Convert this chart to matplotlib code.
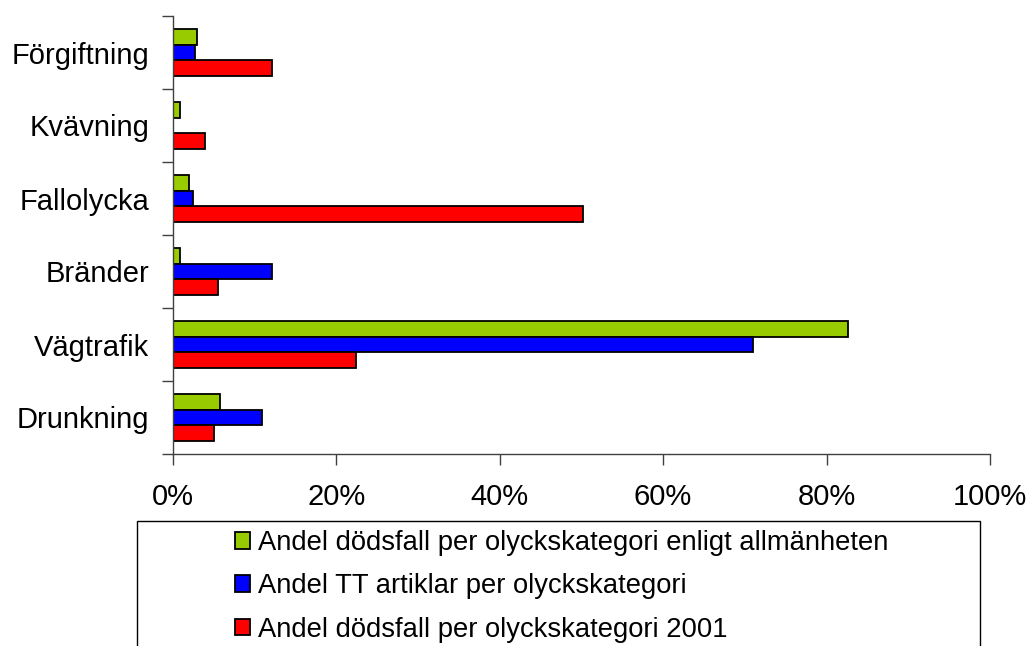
import matplotlib
matplotlib.use("Agg")
import matplotlib.pyplot as plt
import matplotlib.patches as mpatches
import numpy as np

plt.rcParams['font.family'] = ['Liberation Sans', 'DejaVu Sans']

categories = ["Förgiftning", "Kvävning", "Fallolycka", "Bränder", "Vägtrafik", "Drunkning"]
allmanheten = [3.0, 0.9, 2.0, 0.9, 82.6, 5.8]
tt_artiklar = [2.7, 0.0, 2.5, 12.2, 71.0, 10.9]
dodsfall_2001 = [12.2, 4.0, 50.2, 5.5, 22.4, 5.0]
series_labels = ["Andel dödsfall per olyckskategori enligt allmänheten",
                 "Andel TT artiklar per olyckskategori",
                 "Andel dödsfall per olyckskategori 2001"]
colors = ["#99CC00", "#0000FF", "#FF0000"]
xticks = [0, 20, 40, 60, 80, 100]
xticklabels = ["0%", "20%", "40%", "60%", "80%", "100%"]

fig = plt.figure(figsize=(10.34, 6.46), dpi=100)
x0, x1 = 172.7, 990.0
ax = fig.add_axes([x0/1034, 1-454/646, (x1-x0)/1034, 438/646])

n = len(categories)
y = np.arange(n)[::-1].astype(float)  # first category on top
h = 0.215
series = [allmanheten, tt_artiklar, dodsfall_2001]
handles = []
for i, (vals, c, lab) in enumerate(zip(series, colors, series_labels)):
    offs = (1 - i) * h
    ax.barh(y + offs, vals, height=h, color=c, edgecolor="black",
            linewidth=1.3, label=lab)
    handles.append(mpatches.Patch(facecolor=c, edgecolor="black", linewidth=1.3))

ax.set_xlim(0, 100)
ax.set_ylim(-0.5, n - 0.5)
ax.set_xticks(xticks)
ax.set_xticklabels(xticklabels, fontsize=21)
ax.set_yticks(y)
ax.set_yticklabels(categories, fontsize=21)
ax.tick_params(axis='y', which='major', length=0, pad=17)
ax.set_yticks(np.arange(-0.5, n, 1.0), minor=True)
ax.tick_params(axis='y', which='minor', length=8, width=1, color="#404040", direction='out')
ax.tick_params(axis='x', length=8, width=1, color="#404040", direction='out', pad=13)

for s in ["top", "right"]:
    ax.spines[s].set_visible(False)
for s in ["left", "bottom"]:
    ax.spines[s].set_color("#404040")
    ax.spines[s].set_linewidth(1)

# legend box (extends past bottom of figure)
top = 521
rect = mpatches.Rectangle((137/1034, -0.1), (980-137)/1034, (1-top/646) + 0.1,
                          transform=fig.transFigure, fill=False, edgecolor="black",
                          linewidth=1, clip_on=False)
fig.patches.append(rect)
fig.legend(handles, series_labels, loc='upper left',
           bbox_to_anchor=(235/1034, 1-530/646), frameon=False, fontsize=19.75,
           handlelength=0.55, handleheight=0.55, handletextpad=0.3,
           labelspacing=0.63, borderpad=0, borderaxespad=0)

fig.savefig("out.png", dpi=100)
